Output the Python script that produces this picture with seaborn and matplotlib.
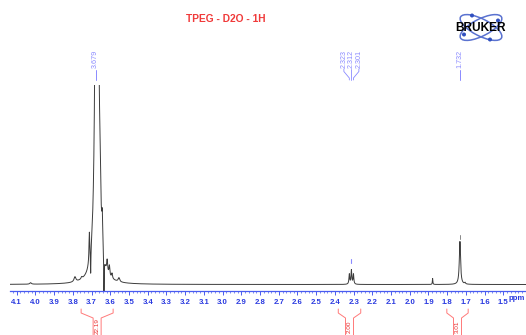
import numpy as np
import pandas as pd
import matplotlib
matplotlib.use("Agg")
import matplotlib.pyplot as plt
import seaborn as sns
from matplotlib.patches import Ellipse, Circle

# ---------------- data ----------------
title = "TPEG - D2O - 1H"
# resolved lines of the spectrum (ppm, height above baseline, half width)
peak_ppm = [4.026, 3.789, 3.753, 3.712, 3.705, 3.672, 3.655, 3.643, 3.634,
            3.617, 3.605, 3.591, 3.554, 2.323, 2.312, 2.301, 1.878, 1.732, 1.705]
peak_height = [1.5, 5, 2, 30, -26, 900, 35, 30, -38,
               12, 10, 5, 4, 10, 14, 10, 6, 43, 1.5]
peak_width = [0.005, 0.006, 0.004, 0.0025, 0.0015, 0.0065, 0.004, 0.003, 0.0015,
              0.003, 0.003, 0.003, 0.005, 0.0025, 0.0025, 0.0025, 0.0015, 0.004, 0.003]

# picked peak labels
label_groups = [["3.679"], ["2.323", "2.312", "2.301"], ["1.732"]]
# integrals: (from ppm, to ppm, value)
integral_from = [3.756, 2.382, 1.802]
integral_to = [3.585, 2.262, 1.688]
integral_values = ["22.19", "2.00", "3.01"]

tick_values = [4.1, 4.0, 3.9, 3.8, 3.7, 3.6, 3.5, 3.4, 3.3, 3.2, 3.1, 3.0, 2.9, 2.8,
               2.7, 2.6, 2.5, 2.4, 2.3, 2.2, 2.1, 2.0, 1.9, 1.8, 1.7, 1.6, 1.5]

# ---------------- spectrum ----------------
ppm = np.linspace(4.136, 1.379, 24000)
intensity = np.zeros_like(ppm)
for p, h, w in zip(peak_ppm, peak_height, peak_width):
    intensity += h / (1.0 + ((ppm - p) / w) ** 2)
df = pd.DataFrame({"ppm": ppm, "intensity": intensity})

sns.set_theme(style="white")
plt.rcParams["font.family"] = ["Liberation Sans", "DejaVu Sans"]

W, H = 526, 335
fig = plt.figure(figsize=(W / 100, H / 100), dpi=100)

# overlay axes in pixel coordinates for annotations
over = fig.add_axes([0, 0, 1, 1], zorder=5)
over.set_xlim(0, W)
over.set_ylim(H, 0)
over.axis("off")
over.patch.set_alpha(0)

ax = fig.add_axes([10 / W, (H - 291) / H, (W - 10) / W, (291 - 85) / H])
sns.lineplot(data=df, x="ppm", y="intensity", ax=ax, color="#3c3c3c",
             linewidth=0.7, estimator=None, sort=False)
ax.set_xlim(4.136, 1.379)
ax.set_ylim(-6.5, 199.5)
ax.set_xlabel("")
ax.set_ylabel("")
ax.set_yticks([])
for s in ["top", "left", "right"]:
    ax.spines[s].set_visible(False)
ax.spines["bottom"].set_color("#4a5cf0")
ax.spines["bottom"].set_linewidth(0.9)
ax.patch.set_alpha(0)
ax.set_xticks(tick_values)
ax.set_xticklabels([f"{t:.1f}" for t in tick_values])
ax.set_xticks(np.arange(1.40, 4.14, 0.02), minor=True)
ax.tick_params(axis="x", which="major", direction="out", length=3, width=0.7,
               color="#4a5cf0", labelcolor="#2a3ae0", labelsize=5.6, pad=2.5)
ax.tick_params(axis="x", which="minor", direction="out", length=1.6, width=0.5,
               color="#4a5cf0")
ax.tick_params(axis="x", which="both", bottom=True)
for lab in ax.get_xticklabels():
    lab.set_fontweight("bold")
ax.grid(False)

over.text(509, 299, "ppm", color="#2a3ae0", fontsize=5.6, fontweight="bold",
          ha="left", va="center")

def px(p):
    """ppm -> overlay pixel x"""
    disp = ax.transData.transform((p, 0))
    return over.transData.inverted().transform(disp)[0]

# title
over.text(226, 18.5, title, color="#f03a3a", fontsize=7.4, fontweight="bold",
          ha="center", va="center")

# peak labels
lab_col = "#8a8aff"
for grp in label_groups:
    xs = [px(float(v)) for v in grp]
    c = np.mean(xs)
    n = len(grp)
    spacing = 7.5
    for i, v in enumerate(grp):
        lx = c + (i - (n - 1) / 2) * spacing
        over.text(lx, 58.5, v, rotation=90, color=lab_col, fontsize=5.2,
                  ha="center", va="center")
        if n == 1:
            over.plot([lx, lx], [70, 80], color=lab_col, lw=0.7)
        else:
            over.plot([lx, lx, xs[i], xs[i]], [69, 71.5, 78, 80], color=lab_col, lw=0.6)

# peak-pick markers
over.plot([px(2.312)] * 2, [259, 263], color=lab_col, lw=0.8)
over.plot([px(1.732)] * 2, [235, 239], color="#888888", lw=0.7)

# integrals
int_col = "#ff7a7a"
for a, b, v in zip(integral_from, integral_to, integral_values):
    xl, xr = px(a), px(b)
    c = (xl + xr) / 2
    hw = 4
    over.plot([xl, xl, c - hw, c - hw], [309, 313, 318, 345], color=int_col, lw=0.7,
              clip_on=False)
    over.plot([xr, xr, c + hw, c + hw], [309, 313, 318, 345], color=int_col, lw=0.7,
              clip_on=False)
    over.text(c, 326.3, v, rotation=90, color="#e83030", fontsize=4.6,
              ha="center", va="center")

# Bruker logo
lc = "#5a72d0"
for ang in (27, -27):
    over.add_patch(Ellipse((481, 27.5), 46, 17, angle=ang, fill=False,
                           edgecolor=lc, lw=1.1))
for (dx, dy) in [(-9, -12), (9, 12), (-17, 7), (17, -7)]:
    over.add_patch(Circle((481 + dx, 27.5 + dy), 1.3, color="#3050c0"))
over.text(480, 28, "BRUKER", color="black", fontsize=8.6, fontweight="bold",
          ha="center", va="center")

fig.savefig("out.png", dpi=100)
